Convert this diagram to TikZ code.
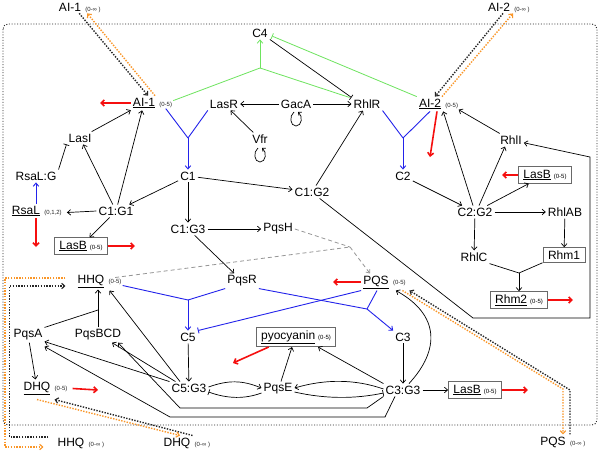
\documentclass[tikz,border=0pt]{standalone}
\usepackage{fontspec}
\setmainfont{Liberation Sans}
\usetikzlibrary{arrows.meta,calc}
\definecolor{mygreen}{RGB}{110,228,95}
\definecolor{myblue}{RGB}{35,35,235}
\definecolor{myred}{RGB}{245,15,15}
\definecolor{myorange}{RGB}{250,150,40}
\definecolor{boxgray}{RGB}{105,105,105}
\definecolor{dashgray}{RGB}{150,150,150}
\newcommand{\myul}[1]{\underline{#1}}
\newcommand{\mysm}[1]{{\fontsize{6}{7}\selectfont #1}}
\tikzset{
 txt/.style={inner sep=2pt, font=\fontsize{12}{14}\selectfont},
 smtxt/.style={inner sep=1pt, font=\fontsize{6}{7}\selectfont, text=black!85},
 boxn/.style={draw=boxgray, line width=0.8pt, inner xsep=5pt, inner ysep=3pt, font=\fontsize{12}{14}\selectfont},
 kln/.style={line width=0.7pt},
 karr/.style={kln, -{Straight Barb[length=3.2pt,width=5.6pt]}},
 kinh/.style={kln, -{Bar[width=6pt,line width=0.7pt]}},
 rarr/.style={myred, line width=1.6pt, -{Straight Barb[length=3.2pt,width=6pt]}},
 bln/.style={myblue, line width=0.9pt},
 barr/.style={bln, -{Straight Barb[length=3.2pt,width=5.6pt]}},
 binh/.style={bln, -{Bar[width=6pt,line width=0.9pt]}},
 gln/.style={mygreen, line width=0.8pt},
 garr/.style={gln, -{Straight Barb[length=3.2pt,width=5.6pt]}},
 ginh/.style={gln, -{Bar[width=6pt,line width=0.8pt]}},
 gdash/.style={dashgray, line width=0.8pt, dash pattern=on 4pt off 3pt},
 gdasharr/.style={gdash, -{Straight Barb[length=3pt,width=5pt]}},
 kdot/.style={black!85, line width=1.4pt, dash pattern=on 1.4pt off 1.4pt},
 odot/.style={myorange, line width=1.4pt, dash pattern=on 1.4pt off 1.4pt},
 kdotarr/.style={kdot, -{Straight Barb[length=3pt,width=5.5pt,line width=1.1pt]}},
 odotarr/.style={odot, -{Straight Barb[length=3pt,width=5.5pt,line width=1.1pt]}},
 outerbox/.style={black!85, line width=0.9pt, dash pattern=on 1pt off 1.7pt, rounded corners=5pt},
 loopst/.style={line width=0.7pt, -{Straight Barb[length=2.5pt,width=4.5pt]}}
}
\newcommand{\myloop}[2]{\draw[loopst] (#1-2,#2-7) .. controls (#1-7,#2-3) and (#1-6,#2+7) .. (#1,#2+7) .. controls (#1+6,#2+7) and (#1+7,#2-3) .. (#1+2,#2-7);}
\begin{document}
\begin{tikzpicture}[x=1pt,y=-1pt]
\useasboundingbox[fill=white] (0,0) rectangle (600,451);
\draw[outerbox] (3,24) rectangle (597,425);

% outer nodes
\node[txt] (ai1o) at (70,7) {AI-1};
\node[smtxt,anchor=base west] (ai1os) at ([xshift=1pt]ai1o.base east) {(0-∞ )};
\node[txt] (ai2o) at (499,7) {AI-2};
\node[smtxt,anchor=base west] (ai2os) at ([xshift=1pt]ai2o.base east) {(0-∞ )};
\node[txt] (hhqo) at (71,443) {HHQ};
\node[smtxt,anchor=base west] (hhqos) at ([xshift=1pt]hhqo.base east) {(0-∞ )};
\node[txt] (dhqo) at (177,443) {DHQ};
\node[smtxt,anchor=base west] (dhqos) at ([xshift=1pt]dhqo.base east) {(0-∞ )};
\node[txt] (pqso) at (553,442) {PQS};
\node[smtxt,anchor=base west] (pqsos) at ([xshift=1pt]pqso.base east) {(0-∞ )};

% inner nodes
\node[txt] (c4) at (260,33) {C4};
\node[txt] (ai1) at (144,103) {\myul{AI-1}};
\node[smtxt,anchor=base west] (ai1s) at ([xshift=1pt]ai1.base east) {(0-5)};
\node[txt] (lasr) at (224,104) {LasR};
\node[txt] (gaca) at (296,104) {GacA};
\node[txt] (rhlr) at (367,104) {RhlR};
\node[txt] (ai2) at (430,104) {\myul{AI-2}};
\node[smtxt,anchor=base west] (ai2s) at ([xshift=1pt]ai2.base east) {(0-5)};
\node[txt] (vfr) at (260,139) {Vfr};
\node[txt] (lasi) at (80,138) {LasI};
\node[txt] (rhli) at (511,140) {RhlI};
\node[txt] (c1) at (188,176) {C1};
\node[txt] (c2) at (403,176) {C2};
\node[txt] (c1g2) at (312,192) {C1:G2};
\node[txt] (rsalg) at (36,176) {RsaL:G};
\node[txt] (rsal) at (26,211) {\myul{RsaL}};
\node[smtxt,anchor=base west] (rsals) at ([xshift=1pt]rsal.base east) {(0,1,2)};
\node[txt] (c1g1) at (116,211) {C1:G1};
\node[txt] (c2g2) at (475,212) {C2:G2};
\node[boxn] (lasbR) at (545,175) {\myul{LasB}\hspace{3pt}\mysm{(0-5)}};
\node[txt] (rhlab) at (565,212) {RhlAB};
\node[boxn] (lasbL) at (81,246) {\myul{LasB}\hspace{3pt}\mysm{(0-5)}};
\node[txt] (c1g3) at (188,229) {C1:G3};
\node[txt] (pqsh) at (278,229) {PqsH};
\node[txt] (rhlc) at (474,257) {RhlC};
\node[boxn] (rhm1) at (564,255) {Rhm1};
\node[txt] (hhq) at (91,281) {\myul{HHQ}};
\node[smtxt,anchor=base west] (hhqs) at ([xshift=1pt]hhq.base east) {(0-5)};
\node[txt] (pqsr) at (242,281) {PqsR};
\node[txt] (pqs) at (376,282) {\myul{PQS}};
\node[smtxt,anchor=base west] (pqss) at ([xshift=1pt]pqs.base east) {(0-5)};
\node[boxn] (rhm2) at (519,300) {\myul{Rhm2}\hspace{3pt}\mysm{(0-5)}};
\node[txt] (pqsa) at (28,335) {PqsA};
\node[txt] (pqsbcd) at (98,335) {PqsBCD};
\node[txt] (c5) at (188,337) {C5};
\node[boxn] (pyo) at (296,337) {\myul{pyocyanin}\hspace{3pt}\mysm{(0-5)}};
\node[txt] (c3) at (403,337) {C3};
\node[txt] (dhq) at (37,388) {\myul{DHQ}};
\node[smtxt,anchor=base west] (dhqs) at ([xshift=1pt]dhq.base east) {(0-5)};
\node[txt] (c5g3) at (189,388) {C5:G3};
\node[txt] (pqse) at (278,389) {PqsE};
\node[txt] (c3g3) at (403,390) {C3:G3};
\node[boxn] (lasbB) at (475,390) {\myul{LasB}\hspace{3pt}\mysm{(0-5)}};

% self loops
\myloop{296}{119}
\myloop{260}{155}

% green
\coordinate (jG) at (260,68);
\draw[gln] (ai1s.north east) -- (jG);
\draw[gln] ([xshift=-2pt]rhlr.north west) -- (jG);
\draw[garr] (jG) -- (c4.south);
\draw[ginh] (ai2.north west) -- ([shift={(2pt,-3pt)}]c4.east);
\draw[kinh] (c4.south east) -- (rhlr.north west);

% black arrows
\draw[karr] (gaca) -- (lasr);
\draw[karr] (gaca) -- (rhlr);
\draw[karr] (vfr) -- (lasr);
\draw[karr] (lasi) -- (ai1);
\draw[karr] (c1g1) -- (ai1);
\draw[karr] (c1g1) -- (lasi);
\draw[kinh] (rsalg.north east) -- (lasi.south west);
\draw[karr] (c1g1.west) -- ([xshift=4pt]rsals.east);
\draw[karr] (c1g1) -- (lasbL);
\draw[karr] (c1) -- (c1g1);
\draw[karr] (c1) -- (c1g2);
\draw[karr] (c1) -- (c1g3);
\draw[karr] (c1g3) -- (pqsh);
\draw[karr] (c1g3) -- (pqsr);
\draw[karr] (c1g2) -- (rhlr);
\draw[karr] (c2) -- (c2g2);
\draw[karr] ([xshift=-2pt]c2g2.north) -- (ai2.south east);
\draw[karr] ([xshift=4pt]c2g2.north) -- ([xshift=-6pt]rhli.south);
\draw[karr] (rhli) -- (ai2s);
\coordinate (pA) at (473,318);
\coordinate (pB) at (590,318);
\coordinate (pC) at (590,157);
\draw[karr] (c1g2.-40) -- (pA) -- (pB) -- (pC) -- (rhli);
\draw[karr] (c2g2) -- (lasbR);
\draw[karr] (c2g2) -- (rhlab);
\draw[karr] (c2g2) -- (rhlc);
\draw[karr] (rhlab) -- (rhm1);
\coordinate (jR) at (519,273);
\draw[kln] (rhlc.south east) -- (jR);
\draw[kln] (rhm1.south west) -- (jR);
\draw[karr] (jR) -- (rhm2);
\draw[karr] (c3) -- (c3g3);
\draw[karr] (c3g3) -- (lasbB);
\draw[karr] (c3g3.north west) -- ([xshift=22pt]pyo.south);
\draw[karr] ([xshift=3pt]pqse.north) -- ([xshift=-4pt]pyo.south);
\draw[karr] ([xshift=6pt]c3g3.north) .. controls (440,350) and (440,315) .. ([xshift=5pt]pqs.south east);
\draw[karr] ([yshift=1pt]c3g3.west) .. controls (355,379) and (325,379) .. ([yshift=1pt]pqse.east);
\draw[kinh] ([yshift=-3pt]pqse.east) .. controls (325,399) and (355,399) .. ([yshift=-3pt]c3g3.west);
\draw[karr] ([yshift=1pt]c5g3.east) .. controls (228,380) and (242,380) .. ([yshift=1pt]pqse.west);
\draw[kinh] ([yshift=-4pt]pqse.west) .. controls (245,399) and (228,399) .. ([yshift=-4pt]c5g3.east);
\draw[karr] (c5) -- (c5g3);
\draw[karr] (c5g3.north west) -- ([yshift=1pt]pqsa.south east);
\draw[karr] ([xshift=6pt]c5g3.north west) -- ([xshift=14pt]pqsbcd.south);
\coordinate (qA1) at (385,417);
\coordinate (qA2) at (170,417);
\coordinate (qB1) at (367,408);
\coordinate (qB2) at (180,408);
\draw[karr] ([xshift=-8pt]c3g3.south) -- (qA1) -- (qA2) -- ([yshift=-4pt]pqsa.south east);
\draw[karr] (c3g3.south west) -- (qB1) -- (qB2) -- ([xshift=20pt]pqsbcd.south);
\draw[karr] ([xshift=-9pt]c5g3.north) -- ([shift={(2pt,-5pt)}]hhqs.south west);
\coordinate (jH) at (98,310);
\draw[kln] (pqsa.north east) -- (jH);
\draw[kln] (pqsbcd.north) -- (jH);
\draw[karr] (jH) -- (jH |- hhq.south);
\draw[karr] (pqsa) -- (dhq);

% blue
\coordinate (jB1) at (188,138);
\draw[bln] (ai1s.south) -- (jB1);
\draw[bln] (lasr.south west) -- (jB1);
\draw[barr] (jB1) -- (c1);
\coordinate (jB2) at (403,138);
\draw[bln] (rhlr.south east) -- (jB2);
\draw[bln] (ai2.south) -- (jB2);
\draw[barr] (jB2) -- (c2);
\draw[barr] (rsal.north -| rsalg.south) -- (rsalg.south);
\coordinate (jB3) at (188,300);
\draw[bln] (hhqs.south east) -- (jB3);
\draw[bln] (pqsr.south west) -- (jB3);
\draw[barr] (jB3) -- (c5);
\draw[binh] (pqs.south west) -- (c5.north east);
\coordinate (jB4) at (367,309);
\draw[bln] (pqsr.south east) -- (jB4);
\draw[bln] ([xshift=1pt]pqs.south) -- (jB4);
\draw[barr] (jB4) -- (c3.north west);

% red
\coordinate (rA1) at (100,103);
\draw[rarr] (ai1.west) -- (rA1);
\coordinate (rA2) at (430,157);
\draw[rarr] ([xshift=7pt]ai2.south) -- (rA2);
\coordinate (rA3) at (36,247);
\draw[rarr] (rsal.south -| rA3) -- (rA3);
\coordinate (rA4) at (135,246);
\draw[rarr] (lasbL.east) -- (rA4);
\coordinate (rA5) at (502,175);
\draw[rarr] (lasbR.west) -- (rA5);
\coordinate (rA6) at (573,300);
\draw[rarr] (rhm2.east) -- (rA6);
\coordinate (rA7) at (333,282);
\draw[rarr] (pqs.west) -- (rA7);
\coordinate (rA8) at (233,363);
\draw[rarr] ([xshift=13pt]pyo.south west) -- (rA8);
\coordinate (rA9) at (98,390);
\draw[rarr] ([xshift=4pt]dhqs.east) -- (rA9);
\coordinate (rA10) at (528,390);
\draw[rarr] (lasbB.east) -- (rA10);

% gray dashed
\coordinate (jD) at (350,247);
\draw[gdash] (pqsh.east) -- (jD);
\draw[gdash] (hhqs.north) -- (jD);
\draw[gdasharr] (jD) -- ([xshift=-6pt]pqs.north);

% dotted exchange
\draw[kdotarr] ([xshift=-4pt]ai1o.south east) -- ([xshift=4pt]ai1.north);
\draw[odotarr] ([xshift=11pt]ai1.north) -- ([xshift=4pt]ai1o.south east);
\draw[kdotarr] ([xshift=4pt]ai2o.south) -- ([xshift=5pt]ai2.north);
\draw[odotarr] ([xshift=12pt]ai2.north) -- ([xshift=14pt]ai2o.south);
\coordinate (hk1) at (9.5,437);
\coordinate (hk2) at (9.5,286);
\draw[kdotarr] ([shift={(-7pt,6pt)}]hhqo.west) -- (hk1) -- (hk2) -- ([shift={(-10pt,-5pt)}]hhq.west);
\coordinate (ho1) at (5,278);
\coordinate (ho2) at (5,447);
\draw[odotarr] ([shift={(-10pt,3pt)}]hhq.west) -- (ho1) -- (ho2) -- ([shift={(-12pt,-4pt)}]hhqo.west);
\draw[kdotarr] (dhqo.north east) -- ([shift={(2pt,-3pt)}]dhq.south east);
\draw[odotarr] ([yshift=-3pt]dhq.south) -- ([xshift=3pt]dhqo.north);
\coordinate (pk1) at (570,390);
\coordinate (po1) at (563,389);
\draw[kdotarr] ([xshift=17pt]pqso.north) -- (pk1) -- ([shift={(10pt,-4pt)}]pqss.south);
\draw[odotarr] ([shift={(3pt,-4pt)}]pqss.south) -- (po1) -- ([xshift=10pt]pqso.north);
\end{tikzpicture}
\end{document}
